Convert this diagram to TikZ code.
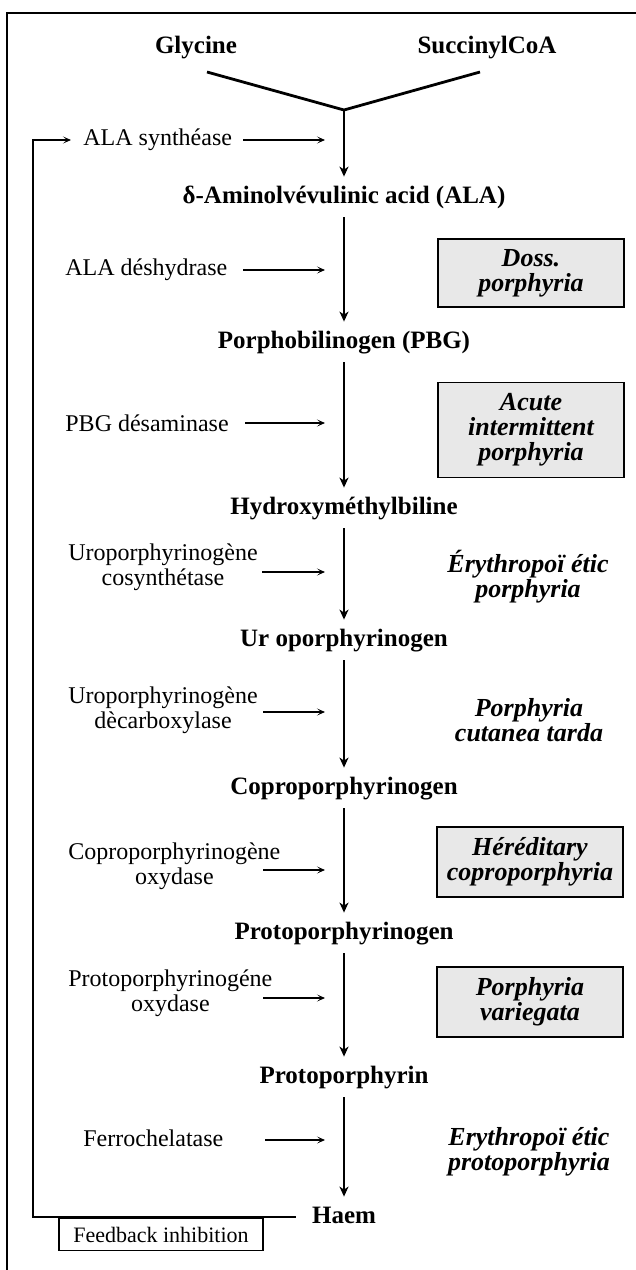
\documentclass[tikz,border=0pt]{standalone}
\usepackage{fontspec}
\setmainfont{Liberation Serif}
\usepackage{tikz}
\usetikzlibrary{arrows,arrows.meta}

\begin{document}
\begin{tikzpicture}[x=0.5pt, y=-0.5pt,
  mol/.style={font=\fontsize{12.5}{13}\selectfont\bfseries, text height=8.5pt, text depth=2.5pt, inner ysep=4.5pt},
  enz/.style={font=\fontsize{12}{12.5}\selectfont, align=center, anchor=west, inner sep=0pt},
  dis/.style={font=\fontsize{13}{12.5}\selectfont\bfseries\itshape, align=center},
  disbox/.style={dis, draw, line width=0.6pt, fill=gray!18, minimum width=93pt, inner sep=0pt},
  react/.style={-{Stealth[length=5pt,width=4.5pt,inset=1.5pt]}, line width=0.8pt},
  enzarrow/.style={-{Stealth[length=4pt,width=3.5pt,inset=2pt]}, line width=0.6pt}]
\useasboundingbox (0,0) rectangle (636,1270);
\draw [line width=0.9pt] (7,1270) -- (7,13) -- (636,13);

% substrates
\node [mol] (gly) at (196,47) {Glycine};
\node [mol] (suc) at (487,47) {SuccinylCoA};
\coordinate (vl) at (207,72);
\coordinate (vr) at (480,72);
\coordinate (v) at (344,110);
\draw [line width=1.4pt] (vl) -- (v) -- (vr);

% main chain
\node [mol] (ala) at (344,197) {δ-Aminolvévulinic acid (ALA)};
\node [mol] (pbg) at (344,342) {Porphobilinogen (PBG)};
\node [mol] (hmb) at (344,508) {Hydroxyméthylbiline};
\node [mol] (uro) at (344,640) {Ur oporphyrinogen};
\node [mol] (copro) at (344,788) {Coproporphyrinogen};
\node [mol] (protogen) at (344,933) {Protoporphyrinogen};
\node [mol] (proto) at (344,1077) {Protoporphyrin};
\node [mol, inner xsep=8pt] (haem) at (344,1217) {Haem};

\draw [react] (v) -- (ala);
\draw [react] (ala) -- (pbg);
\draw [react] (pbg) -- (hmb);
\draw [react] (hmb) -- (uro);
\draw [react] (uro) -- (copro);
\draw [react] (copro) -- (protogen);
\draw [react] (protogen) -- (proto);
\draw [react] (proto) -- (haem);

% enzymes
\node [enz] (syn) at (83,140) {ALA synthéase};
\node [enz] (deshy) at (65,270) {ALA déshydrase};
\node [enz] (desam) at (65,423) {PBG désaminase};
\node [enz] (cosyn) at (68,567) {Uroporphyrinogène\\cosynthétase};
\node [enz] (decarb) at (68,710) {Uroporphyrinogène\\dècarboxylase};
\node [enz] (cpox) at (68,866) {Coproporphyrinogène\\oxydase};
\node [enz] (ppox) at (68,993) {Protoporphyrinogéne\\oxydase};
\node [enz] (fech) at (83,1138) {Ferrochelatase};

\coordinate (s1) at (243,140);  \coordinate (t1) at (325,140);
\coordinate (s2) at (243,270);  \coordinate (t2) at (325,270);
\coordinate (s3) at (245,423);  \coordinate (t3) at (325,423);
\coordinate (s4) at (262,572);  \coordinate (t4) at (325,572);
\coordinate (s5) at (263,712);  \coordinate (t5) at (325,712);
\coordinate (s6) at (263,870);  \coordinate (t6) at (325,870);
\coordinate (s7) at (263,998);  \coordinate (t7) at (325,998);
\coordinate (s8) at (265,1140); \coordinate (t8) at (325,1140);
\draw [enzarrow] (s1) -- (t1);
\draw [enzarrow] (s2) -- (t2);
\draw [enzarrow] (s3) -- (t3);
\draw [enzarrow] (s4) -- (t4);
\draw [enzarrow] (s5) -- (t5);
\draw [enzarrow] (s6) -- (t6);
\draw [enzarrow] (s7) -- (t7);
\draw [enzarrow] (s8) -- (t8);

% diseases
\node [disbox, minimum height=34pt] (doss) at (531,273) {Doss.\\porphyria};
\node [disbox, minimum height=47.5pt] (aip) at (531,430) {Acute\\intermittent\\porphyria};
\node [dis] (cep) at (528,577) {Érythropoï étic\\porphyria};
\node [dis] (pct) at (529,720) {Porphyria\\cutanea tarda};
\node [disbox, minimum height=35pt] (hcp) at (530,862) {Héréditary\\coproporphyria};
\node [disbox, minimum height=35pt] (vp) at (530,1002) {Porphyria\\variegata};
\node [dis] (epp) at (529,1152) {Erythropoï étic\\protoporphyria};

% feedback
\coordinate (fbc) at (33,140);
\draw [enzarrow, shorten >=6pt] (haem.west) -| (fbc) -- (syn.west);
\node [draw, line width=0.6pt, anchor=north, minimum width=102pt, minimum height=16pt, font=\fontsize{11}{12}\selectfont] (fb) at (161,1218) {Feedback inhibition};
\end{tikzpicture}
\end{document}
